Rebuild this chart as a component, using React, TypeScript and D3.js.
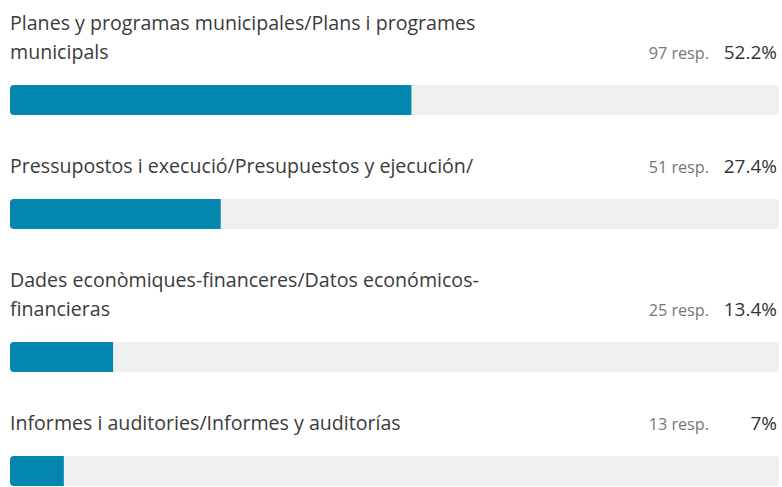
import * as d3 from "d3";
import { useEffect, useRef } from "react";

// Data
const labels: string[][] = [
  ["Planes y programas municipales/Plans i programes", "municipals"],
  ["Pressupostos i execució/Presupuestos y ejecución/"],
  ["Dades econòmiques-financeres/Datos económicos-", "financieras"],
  ["Informes i auditories/Informes y auditorías"],
];
const responses = [97, 51, 25, 13];
const percents = [52.2, 27.4, 13.4, 7];
const percentLabels = ["52.2%", "27.4%", "13.4%", "7%"];

const W = 782;
const H = 487;

const drawChart = (node: SVGSVGElement) => {
  const svg = d3.select(node);
  svg.selectAll("*").remove();

  const left = 10;
  const right = 779;
  const lineH = 29;
  const firstBase = 30;
  const barGap = 26; // last baseline -> bar top
  const barH = 30;
  const rowGap = 28; // bar bottom -> next row top

  const x = d3.scaleLinear().domain([0, 100]).range([left, right]);

  // row layout from label line counts
  let top = 0;
  const rows = labels.map((lines, i) => {
    const bases = lines.map((_, j) => top + firstBase + j * lineH);
    const barTop = bases[bases.length - 1] + barGap;
    top = barTop + barH + rowGap;
    return { lines, bases, barTop, resp: responses[i], pct: percents[i], pctLabel: percentLabels[i] };
  });

  const font = "'Open Sans', 'Noto Sans', sans-serif";

  const g = svg.selectAll("g.row").data(rows).enter().append("g").attr("class", "row");

  g.each(function (d, i) {
    const row = d3.select(this);
    d.lines.forEach((line, j) => {
      row.append("text")
        .attr("x", left)
        .attr("y", d.bases[j])
        .attr("font-family", font)
        .attr("font-size", 19.6)
        .attr("fill", "#3b3b3b")
        .text(line);
    });
    const lastBase = d.bases[d.bases.length - 1];
    row.append("text")
      .attr("x", 709)
      .attr("y", lastBase)
      .attr("text-anchor", "end")
      .attr("font-family", font)
      .attr("font-size", 16.2)
      .attr("fill", "#767676")
      .text(`${d.resp} resp.`);
    row.append("text")
      .attr("x", 777)
      .attr("y", lastBase)
      .attr("text-anchor", "end")
      .attr("font-family", font)
      .attr("font-size", 19)
      .attr("fill", "#333333")
      .text(d.pctLabel);

    const clipId = `clip-${i}`;
    svg.append("clipPath").attr("id", clipId)
      .append("rect")
      .attr("x", x(0)).attr("y", d.barTop)
      .attr("width", x(100) - x(0)).attr("height", barH)
      .attr("rx", 4);

    row.append("rect")
      .attr("x", x(0)).attr("y", d.barTop)
      .attr("width", x(100) - x(0)).attr("height", barH)
      .attr("rx", 4)
      .attr("fill", "#efefef");
    row.append("rect")
      .attr("x", x(0)).attr("y", d.barTop)
      .attr("width", x(d.pct) - x(0)).attr("height", barH)
      .attr("clip-path", `url(#${clipId})`)
      .attr("fill", "#0487ae");
  });
};

export default function App() {
  const ref = useRef<SVGSVGElement>(null);
  useEffect(() => {
    if (ref.current) drawChart(ref.current);
  }, []);
  return (
    <svg
      ref={ref}
      width={W}
      height={H}
      style={{ position: "absolute", left: 0, top: 0, background: "#fff" }}
    />
  );
}
